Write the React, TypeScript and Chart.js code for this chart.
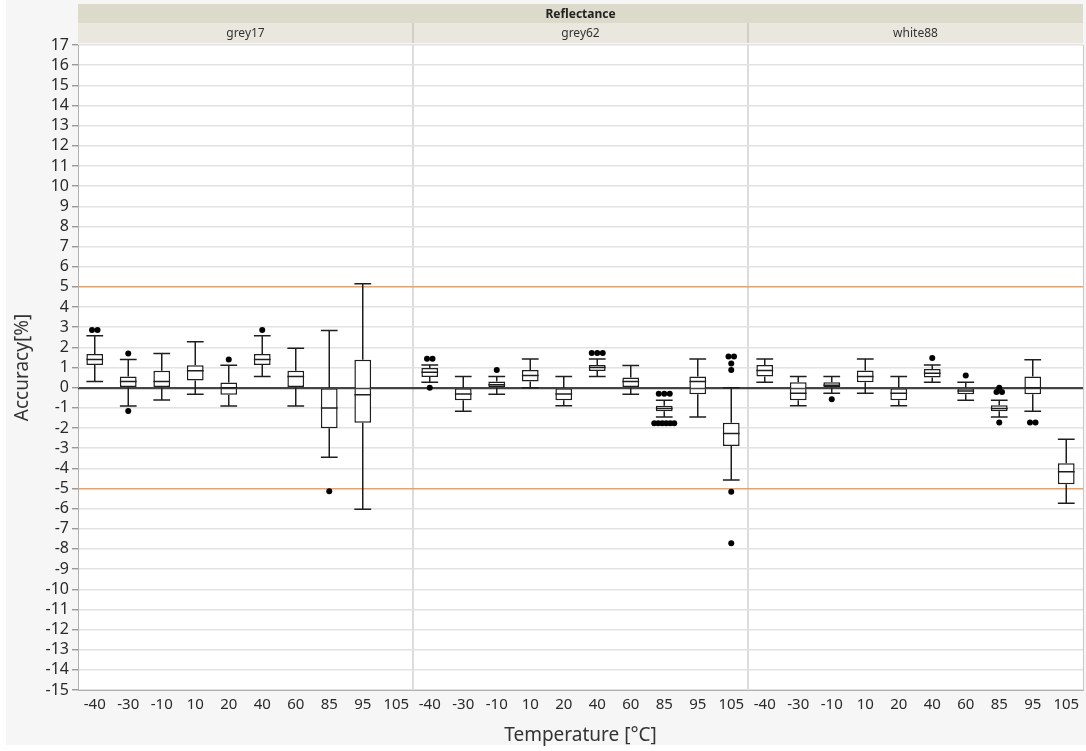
import { useEffect, useRef } from 'react';
import { Chart, registerables } from 'chart.js';

Chart.register(...registerables);

const headerTitle = 'Reflectance';
const panels = ['grey17', 'grey62', 'white88'];
const temperatures = ['-40', '-30', '-10', '10', '20', '40', '60', '85', '95', '105'];
const yMin = -15;
const yMax = 17;

// grey17
const grey17Low = [0.3, -0.91, -0.61, -0.33, -0.91, 0.55, -0.91, -3.45, -6.03, null];
const grey17Q1 = [1.12, 0, 0, 0.35, -0.35, 1.12, 0, -2.02, -1.74, null];
const grey17Median = [1.4, 0.3, 0.3, 0.84, 0, 1.4, 0.55, -1.01, -0.35, null];
const grey17Q3 = [1.67, 0.55, 0.84, 1.11, 0.26, 1.67, 0.84, 0, 1.39, null];
const grey17High = [2.58, 1.4, 1.69, 2.28, 1.11, 2.58, 1.95, 2.84, 5.15, null];
const grey17Outliers = [[2.86, 2.86], [1.7, -1.16], [], [], [1.4], [2.86], [], [-5.14], [], []];

// grey62
const grey62Low = [0.27, -1.17, -0.33, 0, -0.9, 0.55, -0.33, -1.45, -1.45, -4.58];
const grey62Q1 = [0.53, -0.62, 0, 0.3, -0.62, 0.83, 0, -1.17, -0.33, -2.89];
const grey62Median = [0.77, -0.32, 0.15, 0.6, -0.32, 1.0, 0.3, -1.03, 0.3, -2.28];
const grey62Q3 = [0.98, 0, 0.3, 0.88, 0, 1.13, 0.5, -0.9, 0.55, -1.74];
const grey62High = [1.13, 0.55, 0.55, 1.42, 0.55, 1.42, 1.1, -0.62, 1.42, 0];
const grey62Outliers = [
  [1.43, 1.43, 0], [], [0.88], [], [], [1.72, 1.72, 1.72], [],
  [-0.3, -0.3, -0.3, -1.77, -1.77, -1.77, -1.77, -1.77, -1.77], [],
  [1.55, 1.55, 1.2, 0.87, -5.16, -7.72],
];

// white88
const white88Low = [0.27, -0.9, -0.28, -0.28, -0.9, 0.27, -0.62, -1.45, -1.17, -5.74];
const white88Q1 = [0.55, -0.62, 0, 0.27, -0.62, 0.5, -0.33, -1.17, -0.33, -4.79];
const white88Median = [0.85, -0.28, 0.12, 0.55, -0.28, 0.72, -0.17, -1.03, 0, -4.17];
const white88Q3 = [1.13, 0.27, 0.27, 0.85, 0, 0.92, 0, -0.87, 0.55, -3.75];
const white88High = [1.42, 0.55, 0.55, 1.42, 0.55, 1.13, 0.27, -0.62, 1.38, -2.56];
const white88Outliers = [[], [], [-0.58], [], [], [1.47], [0.6], [0, -0.22, -0.22, -1.73], [-1.73, -1.73], []];

const allLabels = [...temperatures, ...temperatures, ...temperatures];
const lowAll = [...grey17Low, ...grey62Low, ...white88Low];
const q1All = [...grey17Q1, ...grey62Q1, ...white88Q1];
const medianAll = [...grey17Median, ...grey62Median, ...white88Median];
const q3All = [...grey17Q3, ...grey62Q3, ...white88Q3];
const highAll = [...grey17High, ...grey62High, ...white88High];
const outliersAll = [...grey17Outliers, ...grey62Outliers, ...white88Outliers];

const FONT = '"Noto Sans", "Open Sans", sans-serif';
const INK = '#1e1e1e';
const LW = 1.5;

const boxPlugin = {
  id: 'boxplotExtras',
  beforeDraw(chart: any) {
    const { ctx, chartArea: a, width, height } = chart;
    ctx.save();
    ctx.fillStyle = '#ffffff';
    ctx.fillRect(0, 0, width, height);
    ctx.fillStyle = '#f6f6f6';
    ctx.fillRect(6, 0, width - 6, height - 6);
    ctx.fillStyle = '#ffffff';
    ctx.fillRect(a.left, a.top, a.right - a.left, a.bottom - a.top);
    ctx.restore();
  },
  afterDatasetsDraw(chart: any) {
    const { ctx, chartArea: a } = chart;
    const xs = chart.scales.x;
    const ys = chart.scales.y;
    const meta = chart.getDatasetMeta(0);
    ctx.save();
    const y0 = Math.round(ys.getPixelForValue(0)) + 0.5;
    ctx.strokeStyle = '#444444';
    ctx.lineWidth = 1.4;
    ctx.beginPath();
    ctx.moveTo(a.left, y0);
    ctx.lineTo(a.right, y0);
    ctx.stroke();

    ctx.strokeStyle = INK;
    ctx.lineWidth = LW;
    for (let i = 0; i < allLabels.length; i++) {
      const q1 = q1All[i];
      if (q1 === null) continue;
      const cx = xs.getPixelForValue(i);
      const el = meta.data[i];
      const half = el && el.width ? el.width / 2 : 8;
      const pQ1 = ys.getPixelForValue(q1);
      const pQ3 = ys.getPixelForValue(q3All[i] as number);
      const pMed = ys.getPixelForValue(medianAll[i] as number);
      const pLow = ys.getPixelForValue(lowAll[i] as number);
      const pHigh = ys.getPixelForValue(highAll[i] as number);
      ctx.beginPath();
      ctx.moveTo(cx, pQ3);
      ctx.lineTo(cx, pHigh);
      ctx.moveTo(cx, pQ1);
      ctx.lineTo(cx, pLow);
      ctx.moveTo(cx - half, pHigh);
      ctx.lineTo(cx + half, pHigh);
      ctx.moveTo(cx - half, pLow);
      ctx.lineTo(cx + half, pLow);
      ctx.moveTo(cx - half, pMed);
      ctx.lineTo(cx + half, pMed);
      ctx.stroke();

      const outs = outliersAll[i];
      const groups: { v: number; n: number }[] = [];
      outs.forEach((v) => {
        const g = groups.find((gg) => Math.abs(gg.v - v) < 0.01);
        if (g) g.n++;
        else groups.push({ v, n: 1 });
      });
      ctx.fillStyle = '#000000';
      groups.forEach((g) => {
        const spacing = g.n > 3 ? 4 : 5.5;
        const py = ys.getPixelForValue(g.v);
        for (let k = 0; k < g.n; k++) {
          const px = cx + (k - (g.n - 1) / 2) * spacing;
          ctx.beginPath();
          ctx.arc(px, py, 3, 0, Math.PI * 2);
          ctx.fill();
        }
      });
    }
    ctx.restore();
  },
  afterDraw(chart: any) {
    const { ctx, chartArea: a } = chart;
    const xs = chart.scales.x;
    const step = xs.getPixelForValue(1) - xs.getPixelForValue(0);
    ctx.save();
    ctx.strokeStyle = '#c8c8c8';
    ctx.lineWidth = 1;
    ctx.beginPath();
    ctx.moveTo(a.right + 0.5, a.top);
    ctx.lineTo(a.right + 0.5, a.bottom);
    ctx.stroke();
    const top1 = 4;
    const top2 = 23;
    const bottom2 = 43;
    ctx.fillStyle = '#dcdacb';
    ctx.fillRect(a.left, top1, a.right - a.left, top2 - top1);
    ctx.fillStyle = '#e9e7de';
    ctx.fillRect(a.left, top2, a.right - a.left, bottom2 - top2);
    ctx.fillStyle = '#222222';
    ctx.font = `bold 12px ${FONT}`;
    ctx.textAlign = 'center';
    ctx.textBaseline = 'middle';
    ctx.fillText(headerTitle, (a.left + a.right) / 2, (top1 + top2) / 2 + 1);
    ctx.font = `12px ${FONT}`;
    panels.forEach((p, pi) => {
      const l = pi === 0 ? a.left : xs.getPixelForValue(pi * temperatures.length) - step / 2;
      const r = pi === panels.length - 1 ? a.right : xs.getPixelForValue((pi + 1) * temperatures.length) - step / 2;
      ctx.fillStyle = '#333333';
      ctx.fillText(p, (l + r) / 2, (top2 + bottom2) / 2 + 1);
      if (pi > 0) {
        ctx.strokeStyle = '#d2d0c2';
        ctx.lineWidth = 2;
        ctx.beginPath();
        ctx.moveTo(l, top2);
        ctx.lineTo(l, bottom2);
        ctx.stroke();
      }
    });
    ctx.restore();
  },
};

export default function App() {
  const ref = useRef<HTMLCanvasElement | null>(null);
  useEffect(() => {
    if (!ref.current) return;
    const boxes = q1All.map((q1, i) => (q1 === null ? null : [q1, q3All[i] as number]));
    const chart = new Chart(ref.current, {
      type: 'bar',
      data: {
        labels: allLabels,
        datasets: [
          {
            data: boxes as any,
            backgroundColor: '#ffffff',
            borderColor: INK,
            borderWidth: LW,
            borderSkipped: false,
            barPercentage: 0.5,
            categoryPercentage: 1,
          },
        ],
      },
      options: {
        animation: false,
        responsive: false,
        maintainAspectRatio: false,
        layout: { padding: { top: 45, right: 3, left: 0, bottom: 0 } },
        plugins: { legend: { display: false }, tooltip: { enabled: false } },
        scales: {
          x: {
            offset: true,
            grid: {
              offset: true,
              drawTicks: false,
              color: (c: any) => (c.index === 10 || c.index === 20 ? '#dcdcdc' : 'rgba(0,0,0,0)'),
              lineWidth: 2,
            },
            border: { color: '#b0b0b0' },
            ticks: {
              autoSkip: false,
              maxRotation: 0,
              padding: 6,
              color: '#2a2a2a',
              font: { family: FONT, size: 15 },
            },
            title: {
              display: true,
              text: 'Temperature [°C]',
              color: '#333333',
              font: { family: FONT, size: 19 },
              padding: { top: 0, bottom: 4 },
            },
            afterFit: (s: any) => {
              s.height = 61;
            },
          },
          y: {
            min: yMin,
            max: yMax,
            ticks: {
              stepSize: 1,
              autoSkip: false,
              padding: 3,
              color: '#2a2a2a',
              font: { family: FONT, size: 16 },
            },
            grid: {
              color: (c: any) => {
                const v = c.tick ? c.tick.value : null;
                if (v === 0) return '#444444';
                if (v === 5 || v === -5) return '#f0a060';
                return '#e2e2e2';
              },
              lineWidth: (c: any) => {
                const v = c.tick ? c.tick.value : null;
                if (v === 5 || v === -5) return 1.5;
                return 1.4;
              },
              tickColor: '#999999',
              tickLength: 6,
            },
            border: { color: '#b0b0b0' },
            title: {
              display: true,
              text: 'Accuracy[%]',
              color: '#333333',
              font: { family: FONT, size: 19 },
              padding: { top: 11, bottom: 0 },
            },
            afterFit: (s: any) => {
              s.width = 78;
            },
          },
        },
      },
      plugins: [boxPlugin],
    });
    return () => chart.destroy();
  }, []);
  return (
    <canvas
      ref={ref}
      width={1086}
      height={751}
      style={{ position: 'fixed', left: 0, top: 0, width: 1086, height: 751 }}
    />
  );
}
